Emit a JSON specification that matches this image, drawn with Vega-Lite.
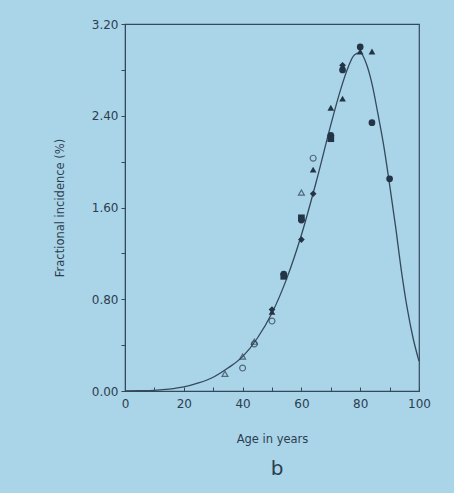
{
  "$schema": "https://vega.github.io/schema/vega-lite/v6.json",
  "width": 294,
  "height": 367,
  "autosize": {"type": "none"},
  "padding": {"left": 125, "top": 24, "right": 35, "bottom": 102},
  "background": "#aad4e8",
  "config": {
    "view": {"stroke": "#34495c", "strokeWidth": 1.2},
    "font": "DejaVu Sans",
    "axis": {
      "domainColor": "#34495c",
      "tickColor": "#34495c",
      "labelColor": "#2c3e50",
      "titleColor": "#2c3e50",
      "labelFont": "DejaVu Sans",
      "titleFont": "DejaVu Sans",
      "labelFontSize": 12,
      "titleFontSize": 11.5,
      "titleFontWeight": "normal",
      "grid": false
    }
  },
  "title": {
    "text": "b",
    "orient": "bottom",
    "anchor": "middle",
    "fontSize": 20,
    "fontWeight": "normal",
    "font": "DejaVu Sans",
    "color": "#2c3e50",
    "offset": 14,
    "dx": 5
  },
  "datasets": {
    "curve": [
      {"age": 0, "val": 0},
      {"age": 5, "val": 0.002},
      {"age": 10, "val": 0.006},
      {"age": 15, "val": 0.016},
      {"age": 20, "val": 0.035},
      {"age": 25, "val": 0.07},
      {"age": 30, "val": 0.12},
      {"age": 35, "val": 0.2},
      {"age": 40, "val": 0.3},
      {"age": 45, "val": 0.46},
      {"age": 50, "val": 0.68},
      {"age": 55, "val": 0.98},
      {"age": 60, "val": 1.36},
      {"age": 65, "val": 1.82},
      {"age": 70, "val": 2.32},
      {"age": 73, "val": 2.6},
      {"age": 76, "val": 2.83},
      {"age": 78, "val": 2.93},
      {"age": 80, "val": 2.95},
      {"age": 82, "val": 2.86},
      {"age": 84, "val": 2.68},
      {"age": 86, "val": 2.42},
      {"age": 88, "val": 2.14},
      {"age": 90, "val": 1.8},
      {"age": 92, "val": 1.44},
      {"age": 94, "val": 1.05},
      {"age": 96, "val": 0.72},
      {"age": 98, "val": 0.46},
      {"age": 100, "val": 0.26}
    ],
    "open": [
      {"age": 34, "val": 0.15, "sym": "triangle-up"},
      {"age": 40, "val": 0.3, "sym": "triangle-up"},
      {"age": 40, "val": 0.2, "sym": "circle"},
      {"age": 44, "val": 0.43, "sym": "triangle-up"},
      {"age": 44, "val": 0.41, "sym": "circle"},
      {"age": 50, "val": 0.61, "sym": "circle"},
      {"age": 60, "val": 1.73, "sym": "triangle-up"},
      {"age": 64, "val": 2.03, "sym": "circle"}
    ],
    "filled": [
      {"age": 50, "val": 0.71, "sym": "diamond"},
      {"age": 50, "val": 0.69, "sym": "triangle-up"},
      {"age": 54, "val": 1.02, "sym": "circle"},
      {"age": 54, "val": 1.0, "sym": "square"},
      {"age": 60, "val": 1.51, "sym": "square"},
      {"age": 60, "val": 1.49, "sym": "circle"},
      {"age": 60, "val": 1.32, "sym": "diamond"},
      {"age": 64, "val": 1.72, "sym": "diamond"},
      {"age": 64, "val": 1.93, "sym": "triangle-up"},
      {"age": 70, "val": 2.23, "sym": "circle"},
      {"age": 70, "val": 2.2, "sym": "square"},
      {"age": 70, "val": 2.47, "sym": "triangle-up"},
      {"age": 74, "val": 2.55, "sym": "triangle-up"},
      {"age": 74, "val": 2.8, "sym": "circle"},
      {"age": 74, "val": 2.84, "sym": "diamond"},
      {"age": 80, "val": 3.0, "sym": "circle"},
      {"age": 80, "val": 2.96, "sym": "triangle-up"},
      {"age": 84, "val": 2.96, "sym": "triangle-up"},
      {"age": 84, "val": 2.34, "sym": "circle"},
      {"age": 90, "val": 1.85, "sym": "circle"}
    ]
  },
  "encoding": {
    "x": {
      "field": "age",
      "type": "quantitative",
      "scale": {"domain": [0, 100], "nice": false},
      "axis": {
        "title": "Age in years",
        "values": [0, 10, 20, 30, 40, 50, 60, 70, 80, 90, 100],
        "labelExpr": "datum.value % 20 == 0 ? datum.label : ''",
        "tickSize": -4,
        "labelPadding": 11,
        "titlePadding": 24,
        "labelFlush": false
      }
    },
    "y": {
      "field": "val",
      "type": "quantitative",
      "scale": {"domain": [0, 3.2], "nice": false},
      "axis": {
        "title": "Fractional incidence (%)",
        "values": [0, 0.4, 0.8, 1.2, 1.6, 2.0, 2.4, 2.8, 3.2],
        "format": ".2f",
        "labelExpr": "(round(datum.value * 10) % 8 == 0) ? datum.label : ''",
        "tickSize": 4,
        "labelPadding": 3,
        "titlePadding": 26,
        "labelFlush": false
      }
    }
  },
  "layer": [
    {
      "data": {"name": "curve"},
      "mark": {"type": "line", "color": "#34495c", "strokeWidth": 1.3, "interpolate": "monotone"}
    },
    {
      "data": {"name": "open"},
      "mark": {"type": "point", "filled": false, "color": "#2c3e50", "strokeWidth": 1.2, "size": 35},
      "encoding": {
        "shape": {"field": "sym", "type": "nominal", "scale": null, "legend": null}
      }
    },
    {
      "data": {"name": "filled"},
      "mark": {"type": "point", "filled": true, "color": "#243447", "opacity": 1, "size": 45},
      "encoding": {
        "shape": {"field": "sym", "type": "nominal", "scale": null, "legend": null}
      }
    }
  ]
}
